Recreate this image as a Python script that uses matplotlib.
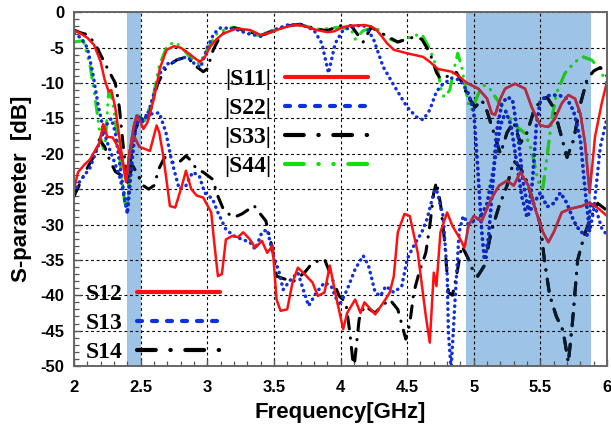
import matplotlib
matplotlib.use("Agg")
import matplotlib.pyplot as plt
from matplotlib.lines import Line2D
from matplotlib.patches import Rectangle
from matplotlib.ticker import MultipleLocator, FuncFormatter
from matplotlib.font_manager import FontProperties

plt.rcParams['axes.unicode_minus'] = False

# ---------------- data (frequency in GHz, S-parameter in dB) ----------------
f_s11 = [2.0, 2.05, 2.1, 2.15, 2.2, 2.23, 2.26, 2.28, 2.31, 2.35, 2.39, 2.42, 2.45, 2.47, 2.5, 2.52,
         2.55, 2.6, 2.645, 2.695, 2.75, 2.8, 2.86, 2.9, 2.945, 2.98, 3.02, 3.07, 3.12, 3.22, 3.32, 3.4,
         3.47, 3.55, 3.65, 3.72, 3.82, 3.9, 3.95, 4.02, 4.07, 4.18, 4.23, 4.27, 4.31, 4.35, 4.40, 4.5,
         4.62, 4.67, 4.73, 4.78, 4.835, 4.885, 4.95, 5.035, 5.10, 5.135, 5.16, 5.20, 5.235, 5.31, 5.385,
         5.435, 5.50, 5.56, 5.61, 5.66, 5.71, 5.76, 5.80, 5.835, 5.87, 5.91, 5.96, 6.0]
s11 = [-2.5, -3.0, -3.6, -4.6, -7.0, -9.5, -11.2, -11.0, -13.5, -19.0, -24.0, -19.5, -16.0, -14.6, -15.5, -16.5,
       -15.6, -12.2, -7.9, -5.3, -4.8, -5.0, -5.8, -6.4, -7.0, -6.4, -4.9, -3.8, -3.0, -2.3, -2.5, -3.2,
       -2.9, -2.3, -1.8, -1.9, -2.5, -2.8, -2.7, -2.1, -1.9, -1.8, -2.0, -2.5, -3.4, -4.4, -5.3, -5.8,
       -6.3, -7.0, -8.0, -8.2, -8.4, -9.0, -10.0, -10.8, -12.2, -14.3, -14.5, -12.2, -10.8, -10.1, -10.8,
       -13.4, -16.0, -16.2, -15.0, -12.9, -11.7, -12.2, -14.3, -18.5, -25.5, -17.6, -12.9, -9.8]

f_s22 = [2.0, 2.05, 2.1, 2.14, 2.18, 2.22, 2.26, 2.3, 2.34, 2.37, 2.4, 2.43, 2.46, 2.48, 2.52, 2.56,
         2.6, 2.65, 2.7, 2.75, 2.8, 2.85, 2.9, 2.95, 3.0, 3.05, 3.1, 3.2, 3.3, 3.4, 3.5, 3.6, 3.7, 3.8,
         3.86, 3.91, 3.96, 4.02, 4.1, 4.17, 4.21, 4.25, 4.32, 4.40, 4.50, 4.57, 4.62, 4.67, 4.72, 4.76,
         4.835, 4.90, 4.96, 5.0, 5.03, 5.06, 5.08, 5.11, 5.14, 5.17, 5.21, 5.25, 5.29, 5.33, 5.37, 5.41,
         5.44, 5.47, 5.5, 5.55, 5.6, 5.65, 5.7, 5.75, 5.8, 5.84, 5.87, 5.9, 5.95, 6.0]
s22 = [-3.0, -3.6, -5.0, -8.5, -13.0, -16.5, -19.0, -21.0, -23.0, -25.5, -28.5, -22.0, -16.5, -14.8, -15.5, -14.0,
       -11.5, -8.5, -7.3, -7.0, -6.5, -6.3, -7.2, -7.8, -5.0, -3.0, -2.2, -2.3, -3.0, -3.4, -2.5, -1.8, -1.7, -2.5,
       -4.4, -8.6, -4.4, -2.5, -2.0, -1.8, -2.6, -3.9, -7.7, -10.3, -13.4, -14.8, -15.2, -13.8, -11.2, -10.3,
       -9.3, -9.6, -11.5, -14.0, -22.0, -31.0, -35.0, -32.0, -25.0, -17.0, -13.0, -12.0, -12.3, -17.0, -24.0, -28.0,
       -24.0, -16.0, -12.5, -11.8, -11.7, -11.8, -12.2, -14.0, -18.0, -26.0, -31.0, -28.0, -19.0, -15.0]

f_s33 = [2.0, 2.05, 2.11, 2.17, 2.245, 2.31, 2.34, 2.37, 2.4, 2.43, 2.46, 2.5, 2.55, 2.6, 2.63, 2.695,
         2.77, 2.845, 2.92, 2.97, 3.0, 3.045, 3.095, 3.15, 3.2, 3.3, 3.4, 3.5, 3.6, 3.7, 3.8, 3.9, 3.99,
         4.08, 4.17, 4.23, 4.34, 4.43, 4.55, 4.61, 4.67, 4.72, 4.75, 4.81, 4.87, 4.9, 4.96, 5.01, 5.06,
         5.1, 5.15, 5.2, 5.25, 5.3, 5.35, 5.4, 5.45, 5.5, 5.55, 5.6, 5.65, 5.7, 5.75, 5.8, 5.85, 5.9, 5.95, 6.0]
s33 = [-2.5, -2.9, -3.2, -4.9, -7.7, -10.0, -13.4, -19.0, -24.0, -20.0, -16.5, -15.0, -15.5, -12.0, -10.0, -7.7,
       -6.75, -6.3, -7.7, -8.4, -8.0, -5.3, -3.45, -2.5, -2.2, -2.6, -3.3, -2.6, -1.9, -1.7, -2.3, -2.6, -1.9,
       -1.9, -4.2, -2.1, -3.3, -4.2, -3.5, -3.8, -5.7, -8.5, -9.4, -9.0, -8.5, -9.5, -12.0, -13.4, -12.4,
       -14.0, -17.0, -20.0, -17.0, -15.5, -18.5, -17.0, -14.0, -12.5, -12.0, -13.5, -17.0, -20.5, -18.0, -13.0,
       -9.5, -8.3, -7.8, -9.0]

f_s44 = [2.0, 2.07, 2.12, 2.16, 2.2, 2.23, 2.26, 2.29, 2.32, 2.35, 2.38, 2.4, 2.44, 2.48, 2.53, 2.59,
         2.64, 2.70, 2.76, 2.82, 2.88, 2.94, 3.0, 3.08, 3.2, 3.38, 3.49, 3.67, 3.85, 3.99, 4.08, 4.11,
         4.17, 4.26, 4.37, 4.43, 4.55, 4.61, 4.67, 4.73, 4.76, 4.78, 4.82, 4.85, 4.88, 4.91, 4.935, 4.96,
         4.985, 5.035, 5.07, 5.11, 5.17, 5.25, 5.31, 5.385, 5.435, 5.47, 5.50, 5.52, 5.55, 5.585, 5.62,
         5.685, 5.76, 5.82, 5.886, 5.95, 6.0]
s44 = [-4.2, -4.0, -7.5, -12.3, -17.9, -19.8, -11.3, -12.3, -17.0, -21.7, -26.9, -27.5, -17.0, -14.6, -15.3, -12.3,
       -7.5, -4.7, -4.2, -5.2, -6.6, -7.3, -5.2, -2.8, -2.1, -3.3, -2.6, -1.7, -2.4, -2.1, -2.4, -3.8,
       -2.6, -2.1, -3.8, -4.2, -3.3, -3.1, -5.2, -8.2, -11.5, -12.0, -11.0, -8.2, -5.8, -7.7, -10.5, -12.9,
       -13.8, -11.5, -10.3, -10.5, -12.2, -14.3, -16.0, -17.1, -19.5, -22.8, -24.9, -24.7, -20.4, -15.2, -11.5,
       -8.6, -7.0, -6.3, -6.75, -8.2, -10.1]

f_s12 = [2.0, 2.03, 2.08, 2.12, 2.15, 2.19, 2.22, 2.25, 2.29, 2.33, 2.37, 2.39, 2.42, 2.45, 2.49, 2.53,
         2.57, 2.62, 2.64, 2.67, 2.72, 2.76, 2.81, 2.84, 2.88, 2.92, 2.97, 3.03, 3.05, 3.08, 3.11, 3.14,
         3.19, 3.23, 3.27, 3.32, 3.36, 3.41, 3.45, 3.49, 3.52, 3.55, 3.6, 3.64, 3.68, 3.73, 3.79, 3.83,
         3.88, 3.92, 3.96, 4.02, 4.05, 4.11, 4.15, 4.18, 4.26, 4.33, 4.37, 4.4, 4.43, 4.48, 4.52, 4.58,
         4.64, 4.67, 4.70, 4.72, 4.75, 4.80, 4.84, 4.90, 4.93, 4.96, 5.0, 5.06, 5.13, 5.19, 5.25, 5.30,
         5.35, 5.41, 5.47, 5.52, 5.56, 5.60, 5.66, 5.72, 5.81, 5.87, 5.94, 6.0]
s12 = [-25.0, -22.6, -21.5, -20.8, -19.8, -18.5, -15.8, -17.6, -17.7, -19.0, -21.5, -23.6, -19.5, -17.5, -19.0, -19.3,
       -19.6, -16.0, -17.0, -20.3, -27.4, -27.6, -24.5, -22.4, -25.0, -25.9, -26.2, -28.3, -32.1, -37.3, -37.0, -32.1,
       -31.6, -31.8, -31.1, -32.1, -33.3, -32.3, -34.0, -33.0, -40.6, -42.2, -42.0, -38.2, -36.1, -37.0, -38.2, -40.1,
       -39.6, -35.8, -39.6, -44.8, -42.5, -40.6, -42.5, -41.0, -42.7, -40.8, -39.6, -37.3, -31.1, -28.5, -28.8, -34.0,
       -42.9, -46.7, -36.8, -38.7, -31.1, -28.3, -30.2, -32.1, -33.3, -30.2, -28.8, -29.5, -26.4, -24.5, -23.8, -24.5,
       -22.6, -24.5, -28.3, -31.1, -32.5, -31.1, -28.3, -27.8, -27.4, -26.9, -27.8, -28.8]

f_s13 = [2.0, 2.04, 2.08, 2.12, 2.16, 2.2, 2.24, 2.28, 2.31, 2.34, 2.37, 2.4, 2.43, 2.46, 2.5, 2.55,
         2.6, 2.64, 2.69, 2.73, 2.79, 2.84, 2.89, 2.94, 2.98, 3.04, 3.08, 3.14, 3.2, 3.26, 3.32, 3.36,
         3.41, 3.45, 3.49, 3.54, 3.57, 3.63, 3.68, 3.76, 3.82, 3.88, 3.93, 3.99, 4.05, 4.11, 4.17, 4.21,
         4.26, 4.30, 4.34, 4.4, 4.46, 4.5, 4.55, 4.61, 4.65, 4.70, 4.72, 4.77, 4.80, 4.81, 4.83, 4.86,
         4.89, 4.92, 4.96, 5.0, 5.05, 5.1, 5.15, 5.2, 5.24, 5.28, 5.32, 5.36, 5.4, 5.45, 5.5, 5.55,
         5.6, 5.65, 5.7, 5.75, 5.8, 5.85, 5.88, 5.92, 5.96, 6.0]
s13 = [-25.5, -24.0, -23.0, -22.0, -20.0, -18.0, -16.0, -15.0, -17.0, -21.0, -25.0, -28.0, -21.0, -16.0, -15.0, -14.5,
       -14.3, -14.2, -17.0, -20.8, -25.0, -24.5, -22.6, -23.1, -25.5, -26.4, -28.3, -30.7, -31.6, -32.1, -32.5, -33.5,
       -31.1, -30.7, -34.0, -36.8, -39.2, -37.7, -36.8, -41.5, -39.6, -38.2, -38.7, -41.5, -39.2, -36.3, -34.4, -35.8,
       -39.6, -40.1, -38.7, -39.6, -38.7, -34.9, -33.0, -31.1, -29.2, -25.5, -25.0, -28.8, -36.8, -45.3, -50.5, -40.6,
       -31.1, -28.8, -30.0, -29.5, -29.0, -27.0, -22.0, -16.0, -14.0, -16.0, -21.0, -26.0, -29.0, -27.0, -25.5, -27.5,
       -27.0, -25.5, -27.0, -29.5, -31.0, -31.5, -27.0, -28.0, -30.5, -31.5]

f_s14 = [2.0, 2.05, 2.1, 2.15, 2.19, 2.23, 2.27, 2.31, 2.35, 2.4, 2.44, 2.48, 2.52, 2.56, 2.6, 2.64,
         2.68, 2.72, 2.76, 2.8, 2.84, 2.88, 2.92, 2.97, 3.04, 3.08, 3.12, 3.16, 3.2, 3.26, 3.3, 3.35,
         3.39, 3.44, 3.49, 3.52, 3.58, 3.65, 3.73, 3.79, 3.88, 3.93, 3.99, 4.04, 4.07, 4.1, 4.14, 4.18,
         4.26, 4.31, 4.37, 4.43, 4.49, 4.52, 4.55, 4.59, 4.64, 4.67, 4.70, 4.72, 4.75, 4.78, 4.81, 4.84,
         4.87, 4.91, 4.96, 5.0, 5.03, 5.08, 5.13, 5.19, 5.25, 5.3, 5.35, 5.4, 5.45, 5.5, 5.53, 5.57,
         5.62, 5.67, 5.71, 5.74, 5.78, 5.83, 5.88, 5.93, 6.0]
s14 = [-26.0, -24.0, -22.0, -20.3, -18.0, -19.0, -21.0, -22.5, -23.0, -24.0, -21.7, -23.0, -24.5, -25.0, -24.5, -22.0,
       -20.5, -20.8, -21.5, -21.0, -20.3, -21.0, -22.2, -22.6, -23.6, -26.0, -27.8, -28.5, -29.0, -28.5, -28.0, -27.3,
       -28.3, -29.5, -33.5, -37.3, -37.7, -38.0, -36.8, -35.4, -34.9, -37.3, -40.1, -41.0, -45.3, -50.5, -43.4, -41.5,
       -42.5, -41.5, -40.6, -42.0, -46.2, -44.0, -39.6, -36.8, -34.0, -30.2, -25.5, -24.0, -27.0, -32.1, -39.6, -40.0,
       -37.3, -33.0, -34.9, -36.8, -37.3, -35.8, -31.1, -27.4, -24.5, -21.0, -22.0, -24.0, -27.0, -30.0, -35.0, -40.0,
       -43.0, -45.0, -49.5, -44.0, -35.0, -31.5, -29.0, -27.0, -28.0]

bands = [(2.40, 2.50), (4.94, 5.88)]
x_ticks = [2, 2.5, 3, 3.5, 4, 4.5, 5, 5.5, 6]
y_ticks = [0, -5, -10, -15, -20, -25, -30, -35, -40, -45, -50]

# ---------------- styles ----------------
RED, BLUE, BLACK, GREEN = '#ff1010', '#1030e0', '#000000', '#10e010'
RED_S, BLUE_S, BLACK_S, GREEN_S = '#a8304c', '#1028c0', '#0a1a2a', '#28c028'
DOT = (0, (0.1, 1.6))
DASHDOT = (0, (4, 3, 0.1, 3))
DASHDOTDOT = (0, (4, 2.5, 0.1, 2.5, 0.1, 2.5))

series = [
    (f_s44, s44, GREEN, GREEN_S, DASHDOTDOT, 2.2),
    (f_s33, s33, BLACK, BLACK_S, DASHDOT, 2.2),
    (f_s14, s14, BLACK, BLACK_S, DASHDOT, 2.2),
    (f_s22, s22, BLUE, BLUE_S, DOT, 2.5),
    (f_s13, s13, BLUE, BLUE_S, DOT, 2.5),
    (f_s12, s12, RED, RED_S, '-', 1.8),
    (f_s11, s11, RED, RED_S, '-', 1.8),
]

fig = plt.figure(figsize=(6.11, 4.28), dpi=100)
ax = fig.add_axes([74 / 611, 1 - 366 / 428, (607 - 74) / 611, (366 - 12.3) / 428])

shade = '#9dc3e6'
for a, b in bands:
    ax.axvspan(a, b, color=shade, lw=0, zorder=1)

z = 3
for fx, fy, col, scol, ls, lw in series:
    ax.plot(fx, fy, color=col, linestyle=ls, lw=lw, dash_capstyle='round',
            solid_capstyle='round', zorder=z)
    for a, b in bands:
        rect = Rectangle((a, -60), b - a, 70, transform=ax.transData)
        ln, = ax.plot(fx, fy, color=scol, linestyle=ls, lw=lw, dash_capstyle='round',
                      solid_capstyle='round', zorder=z + 0.01)
        ln.set_clip_path(rect)
    z += 0.1

ax.set_xlim(2, 6)
ax.set_ylim(-50, 0)
ax.set_xticks(x_ticks)
ax.set_yticks(y_ticks)
ax.xaxis.set_minor_locator(MultipleLocator(0.1))
ax.yaxis.set_minor_locator(MultipleLocator(1))
ax.xaxis.set_major_formatter(FuncFormatter(lambda v, p: f'{v:g}'))
ax.yaxis.set_major_formatter(FuncFormatter(lambda v, p: f'{v:g}'))
ax.tick_params(which='both', direction='in', top=False, right=False, colors='#555555')
ax.tick_params(which='major', length=5, width=1.0, labelsize=12, labelcolor='black')
ax.tick_params(axis='x', which='major', pad=10)
ax.tick_params(axis='y', which='major', pad=7)
ax.tick_params(which='minor', length=3.5, width=0.9)
for lab in ax.get_xticklabels() + ax.get_yticklabels():
    lab.set_fontweight('bold')
    lab.set_fontfamily('Liberation Sans')

ax.set_axisbelow(False)
ax.grid(True, which='major', color='black', linestyle=(0, (2.5, 2.5)), linewidth=0.8, zorder=2)
for gl in ax.get_xgridlines() + ax.get_ygridlines():
    gl.set_zorder(2)

for s in ax.spines.values():
    s.set_color('#666666')
    s.set_linewidth(1.4)
    s.set_zorder(10)

lab_font = dict(family='Liberation Sans', weight='bold', size=16)
ax.set_xlabel('Frequency[GHz]', fontdict=lab_font, labelpad=5)
ax.set_ylabel('S-parameter  [dB]', fontdict=lab_font, labelpad=6)

leg_font = FontProperties(family='Liberation Serif', weight='bold', size=17)
h1 = [Line2D([], [], color=RED, lw=3, solid_capstyle='round'),
      Line2D([], [], color=BLUE, lw=3, linestyle=(0, (1.2, 2.4)), dash_capstyle='round'),
      Line2D([], [], color=BLACK, lw=3, linestyle=(0, (4.5, 3.5, 0.1, 3.5)), dash_capstyle='round'),
      Line2D([], [], color=GREEN, lw=3, linestyle=(0, (4.5, 3.5, 0.1, 3.5, 0.1, 3.5)), dash_capstyle='round')]
leg1 = ax.legend(h1, ['|S11|', '|S22|', '|S33|', '|S44|'], loc='upper left',
                 bbox_to_anchor=(0.281, 0.84), markerfirst=False, frameon=False,
                 handlelength=3.5, handletextpad=0.6, labelspacing=0.31, borderpad=0,
                 borderaxespad=0, prop=leg_font)
leg1.set_zorder(20)
ax.add_artist(leg1)
h2 = [Line2D([], [], color=RED, lw=3, solid_capstyle='round'),
      Line2D([], [], color=BLUE, lw=3, linestyle=(0, (1.2, 2.4)), dash_capstyle='round'),
      Line2D([], [], color=BLACK, lw=3, linestyle=(0, (4.5, 3.5, 0.1, 3.5)), dash_capstyle='round')]
leg2 = ax.legend(h2, ['S12', 'S13', 'S14'], loc='upper left',
                 bbox_to_anchor=(0.0225, 0.232), markerfirst=False, frameon=False,
                 handlelength=3.5, handletextpad=0.6, labelspacing=0.31, borderpad=0,
                 borderaxespad=0, prop=leg_font)
leg2.set_zorder(20)

fig.savefig('out.png', dpi=100)
